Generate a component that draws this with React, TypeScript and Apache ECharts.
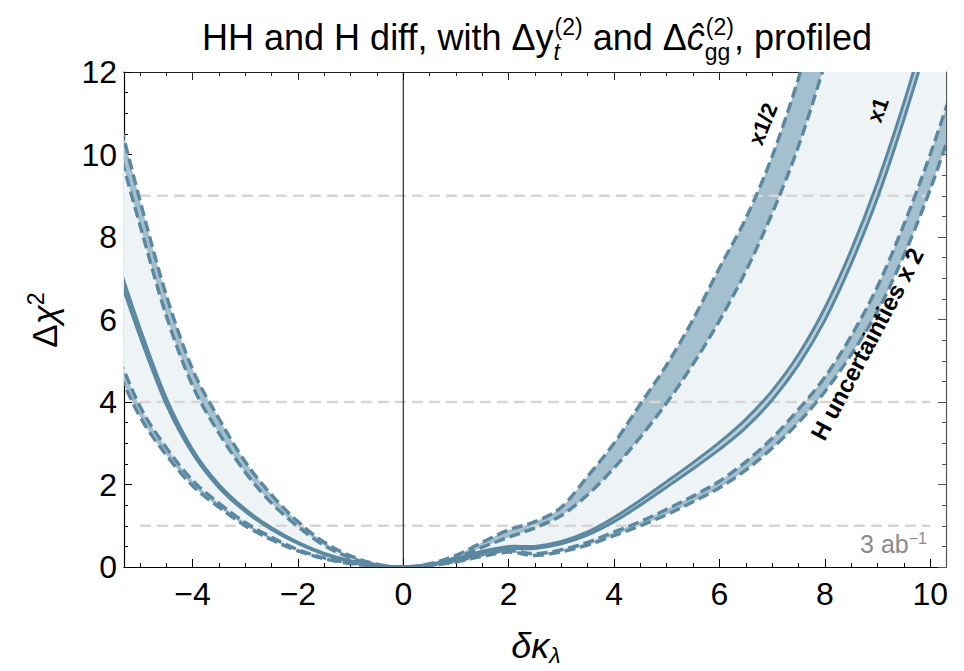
import React, { useEffect, useRef } from 'react';
import * as echarts from 'echarts';

// ---- data ----
const kappa = [-5.5, -5, -4.5, -4, -3.5, -3, -2.5, -2, -1.5, -1, -0.5, 0, 0.5, 1, 1.5, 2, 2.5, 3, 3.5, 4, 4.5, 5, 5.5, 6, 6.5, 7, 7.5, 8, 8.5, 9, 9.5, 10, 10.5];
// "x1/2" band (dashed pair)
const halfOuter = [11.4, 8.9, 6.6, 4.8, 3.6, 2.55, 1.75, 1.1, 0.6, 0.27, 0.07, 0, 0.08, 0.28, 0.6, 0.9, 1.1, 1.45, 2.2, 3.0, 3.95, 4.9, 6.0, 7.25, 8.45, 9.95, 11.85, 14.1, 16.6, 19.2, 22.0, 25.0, 28.0];
const halfInner = [10.6, 8.3, 6.1, 4.4, 3.25, 2.3, 1.55, 0.98, 0.52, 0.22, 0.05, 0, 0.06, 0.22, 0.48, 0.72, 0.95, 1.25, 1.75, 2.4, 3.15, 3.98, 4.92, 5.97, 7.17, 8.57, 10.2, 12.2, 14.4, 16.8, 19.3, 22.0, 24.8];
// "x1" band (solid pair)
const oneOuter = [7.7, 5.8, 4.1, 2.85, 2.0, 1.4, 0.95, 0.6, 0.33, 0.15, 0.04, 0, 0.06, 0.2, 0.38, 0.5, 0.5, 0.62, 0.85, 1.2, 1.62, 2.07, 2.53, 3.02, 3.58, 4.27, 5.15, 6.28, 7.68, 9.33, 11.25, 13.4, 15.7];
const oneInner = [7.45, 5.6, 3.95, 2.76, 1.93, 1.35, 0.91, 0.57, 0.31, 0.14, 0.03, 0, 0.05, 0.17, 0.33, 0.44, 0.45, 0.56, 0.78, 1.1, 1.5, 1.94, 2.38, 2.85, 3.38, 4.05, 4.9, 5.98, 7.35, 8.95, 10.85, 12.95, 15.2];
// "H uncertainties x 2" band (dashed pair)
const twoOuter = [5.4, 3.9, 2.9, 2.1, 1.55, 1.08, 0.72, 0.42, 0.22, 0.1, 0.02, 0, 0.04, 0.14, 0.3, 0.4, 0.32, 0.42, 0.6, 0.85, 1.1, 1.4, 1.72, 2.08, 2.55, 3.12, 3.82, 4.6, 5.6, 6.8, 8.3, 10.0, 11.9];
const twoInner = [5.0, 3.65, 2.72, 1.97, 1.45, 1.0, 0.66, 0.39, 0.2, 0.08, 0.02, 0, 0.03, 0.12, 0.26, 0.36, 0.28, 0.37, 0.53, 0.76, 1.0, 1.27, 1.58, 1.92, 2.35, 2.88, 3.5, 4.25, 5.15, 6.2, 7.55, 9.15, 11.0];

const refLevels = [1, 4, 9];
const refSpan = [-5, 10];
const xMajorTicks = [-4, -2, 0, 2, 4, 6, 8, 10];
const xMinorTicks = [-5, -4.5, -3.5, -3, -2.5, -1.5, -1, -0.5, 0.5, 1, 1.5, 2.5, 3, 3.5, 4.5, 5, 5.5, 6.5, 7, 7.5, 8.5, 9, 9.5];
const yMajorTicks = [0, 2, 4, 6, 8, 10, 12];
const yMinorTicks = [0.5, 1, 1.5, 2.5, 3, 3.5, 4.5, 5, 5.5, 6.5, 7, 7.5, 8.5, 9, 9.5, 10.5, 11, 11.5];
const X_MIN = -5.3, X_MAX = 10.3, Y_MIN = 0, Y_MAX = 12;

const FONT = '"Liberation Sans", Arial, Helvetica, sans-serif';
const LINE = '#5b88a1';
const LIGHT = '#eef3f6';
const BAND = '#a4bfcd';
const BAND_ONE = '#b9cfda';
const DASH = [11, 5];

// Catmull-Rom -> cubic bezier path through pixel points
function smoothPath(p: number[][], start: 'M' | 'L') {
  let d = `${start}${p[0][0]},${p[0][1]}`;
  for (let i = 0; i < p.length - 1; i++) {
    const p0 = p[i - 1] || p[i], p1 = p[i], p2 = p[i + 1], p3 = p[i + 2] || p[i + 1];
    const c1x = p1[0] + (p2[0] - p0[0]) / 6, c1y = p1[1] + (p2[1] - p0[1]) / 6;
    const c2x = p2[0] - (p3[0] - p1[0]) / 6, c2y = p2[1] - (p3[1] - p1[1]) / 6;
    d += `C${c1x},${c1y},${c2x},${c2y},${p2[0]},${p2[1]}`;
  }
  return d;
}

function xAxisDef(position: string, ticks: number[], len: number, labels: boolean, line: boolean, color: string) {
  return {
    type: 'value', min: X_MIN, max: X_MAX, position,
    axisLine: { show: line, onZero: false, lineStyle: { color, width: 1.2 } },
    axisTick: { show: true, inside: true, length: len, customValues: ticks, lineStyle: { color, width: 1 } },
    axisLabel: labels ? {
      show: true, customValues: ticks, margin: 11, fontFamily: FONT, fontSize: 32, color: '#000',
      formatter: (v: number) => (v < 0 ? '\u2212' + Math.abs(v) : String(v)),
    } : { show: false },
    splitLine: { show: false },
  };
}
function yAxisDef(position: string, ticks: number[], len: number, labels: boolean, line: boolean, color: string) {
  return {
    type: 'value', min: Y_MIN, max: Y_MAX, position,
    axisLine: { show: line, onZero: false, lineStyle: { color, width: 1.2 } },
    axisTick: { show: true, inside: true, length: len, customValues: ticks, lineStyle: { color, width: 1 } },
    axisLabel: labels ? { show: true, customValues: ticks, margin: 7, fontFamily: FONT, fontSize: 32, color: '#000' } : { show: false },
    splitLine: { show: false },
  };
}

export default function App() {
  const ref = useRef<HTMLDivElement>(null);
  useEffect(() => {
    const chart = echarts.init(ref.current!, null, { renderer: 'svg' });

    // ---- title built from measured pieces ----
    const ctx = document.createElement('canvas').getContext('2d')!;
    const measure = (t: string, size: number, italic?: boolean) => {
      ctx.font = `${italic ? 'italic ' : ''}${size}px ${FONT}`;
      return ctx.measureText(t).width;
    };
    type Piece = { text: string; size: number; italic?: boolean; dy: number; dx?: number };
    const TS = 36, SS = 23;
    const groups: Piece[][] = [
      [{ text: 'HH and H diff, with \u0394y', size: TS, dy: 0 }],
      [{ text: '(2)', size: SS, dy: -15, dx: 1 }, { text: 't', size: SS, italic: true, dy: 10 }],
      [{ text: ' and \u0394', size: TS, dy: 0 }],
      [{ text: '\u0109', size: TS, italic: true, dy: 0 }],
      [{ text: '(2)', size: SS, dy: -15, dx: 1 }, { text: 'gg', size: SS, dy: 10 }],
      [{ text: ', profiled', size: TS, dy: 0 }],
    ];
    const widths = groups.map(g => Math.max(...g.map(p => measure(p.text, p.size, p.italic) + (p.dx || 0))));
    const total = widths.reduce((a, b) => a + b, 0);
    const titleCenter = 537, titleBase = 50;
    let cx = titleCenter - total / 2;
    const titleEls: any[] = [];
    groups.forEach((g, gi) => {
      g.forEach(p => {
        titleEls.push({
          type: 'text', x: cx + (p.dx || 0), y: titleBase + p.dy - 0.35 * p.size, silent: true,
          style: { text: p.text, fontSize: p.size, fontFamily: FONT, fontStyle: p.italic ? 'italic' : 'normal', fill: '#000', align: 'left', verticalAlign: 'middle' },
        });
      });
      cx += widths[gi];
    });

    const annot = (text: string, x: number, y: number, deg: number, size: number) => ({
      type: 'text', x, y, rotation: (deg * Math.PI) / 180, silent: true, z: 20,
      style: { text, fontSize: size, fontWeight: 'bold', fontFamily: FONT, fill: '#000', align: 'center', verticalAlign: 'middle' },
    });

    const clipRect = (params: any) => {
      const c = params.coordSys;
      return { type: 'rect', shape: { x: c.x, y: c.y, width: c.width, height: c.height } };
    };
    const toPx = (api: any, ys: number[]) => kappa.map((x, i) => api.coord([x, ys[i]]));

    const fills = [
      { lower: twoInner, upper: halfOuter, color: LIGHT, z: 1 },
      { lower: halfInner, upper: halfOuter, color: BAND, z: 2 },
      { lower: oneInner, upper: oneOuter, color: BAND_ONE, z: 2 },
      { lower: twoInner, upper: twoOuter, color: BAND, z: 2 },
    ];
    const curves = [
      { ys: halfOuter, dashed: true, w: 3.4 },
      { ys: halfInner, dashed: true, w: 3.4 },
      { ys: twoOuter, dashed: true, w: 3.4 },
      { ys: twoInner, dashed: true, w: 3.4 },
      { ys: oneOuter, dashed: false, w: 3 },
      { ys: oneInner, dashed: false, w: 3 },
    ];

    const series: any[] = [
      ...fills.map(f => ({
        type: 'custom', coordinateSystem: 'cartesian2d', data: [[0, 0]], silent: true, z: f.z,
        renderItem: (params: any, api: any) => {
          const up = toPx(api, f.upper);
          const lo = toPx(api, f.lower).reverse();
          const d = smoothPath(up, 'M') + smoothPath(lo, 'L') + 'Z';
          return {
            type: 'group', clipPath: clipRect(params),
            children: [{ type: 'path', shape: { pathData: d }, style: { fill: f.color, stroke: null } }],
          };
        },
      })),
      ...refLevels.map(l => ({
        type: 'line', data: [[refSpan[0], l], [refSpan[1], l]], symbol: 'none', silent: true, z: 3,
        lineStyle: { color: '#d6d6d6', width: 2.5, type: [11, 6] },
      })),
      {
        type: 'line', data: [[0, Y_MIN], [0, Y_MAX]], symbol: 'none', silent: true, z: 4,
        lineStyle: { color: '#000', width: 1 },
      },
      {
        type: 'custom', coordinateSystem: 'cartesian2d', data: [[0, 0]], silent: true, z: 6,
        renderItem: (params: any, api: any) => ({
          type: 'group', clipPath: clipRect(params),
          children: curves.map(c => ({
            type: 'path', shape: { pathData: smoothPath(toPx(api, c.ys), 'M') },
            style: { fill: null, stroke: LINE, lineWidth: c.w, lineDash: c.dashed ? DASH : null, lineCap: 'butt', lineJoin: 'round' },
          })),
        }),
      },
    ];

    chart.setOption({
      animation: false,
      backgroundColor: '#fff',
      grid: { left: 124, right: 18, top: 72, bottom: 104, containLabel: false },
      xAxis: [
        xAxisDef('bottom', xMajorTicks, 8, true, true, '#000'),
        xAxisDef('bottom', xMinorTicks, 4, false, false, '#000'),
        xAxisDef('top', xMajorTicks, 8, false, true, '#222'),
        xAxisDef('top', xMinorTicks, 4, false, false, '#222'),
      ],
      yAxis: [
        yAxisDef('left', yMajorTicks, 8, true, true, '#000'),
        yAxisDef('left', yMinorTicks, 4, false, false, '#000'),
        yAxisDef('right', yMajorTicks, 8, false, true, '#555'),
        yAxisDef('right', yMinorTicks, 4, false, false, '#555'),
      ],
      series,
      graphic: [
        ...titleEls,
        {
          type: 'text', x: 44, y: 320, rotation: Math.PI / 2, silent: true,
          style: {
            text: '{a|\u0394}{b|\u03c7}{c|2}', align: 'center', verticalAlign: 'middle',
            rich: {
              a: { fontSize: 35, fontFamily: FONT, fill: '#000', lineHeight: 40 },
              b: { fontSize: 35, fontFamily: FONT, fontStyle: 'italic', fill: '#000', lineHeight: 40 },
              c: { fontSize: 23, fontFamily: FONT, fill: '#000', verticalAlign: 'top', lineHeight: 24 },
            },
          },
        },
        {
          type: 'text', x: 536, y: 645, silent: true,
          style: {
            text: '{a|\u03b4\u03ba}{b|\u03bb}', align: 'center', verticalAlign: 'middle',
            rich: {
              a: { fontSize: 36, fontFamily: FONT, fontStyle: 'italic', fill: '#000', lineHeight: 42 },
              b: { fontSize: 23, fontFamily: FONT, fontStyle: 'italic', fill: '#000', verticalAlign: 'bottom', lineHeight: 22 },
            },
          },
        },
        {
          type: 'text', x: 927, y: 544, silent: true, z: 20,
          style: {
            text: '{a|3 ab}{b|\u22121}', align: 'right', verticalAlign: 'middle',
            rich: {
              a: { fontSize: 25, fontFamily: FONT, fill: '#8a8a8a', lineHeight: 28 },
              b: { fontSize: 16, fontFamily: FONT, fill: '#8a8a8a', verticalAlign: 'top', lineHeight: 16 },
            },
          },
        },
        annot('x1/2', 763, 124, 68, 22),
        annot('x1', 878, 110, 70, 22),
        annot('H uncertainties x 2', 867, 344, 62, 24),
      ],
    });
    return () => chart.dispose();
  }, []);
  return <div ref={ref} style={{ position: 'fixed', left: 0, top: 0, width: 964, height: 671, background: '#fff' }} />;
}
